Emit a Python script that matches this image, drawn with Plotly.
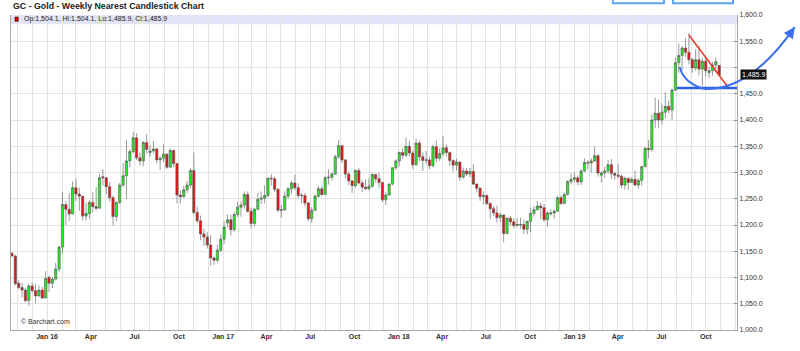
import pandas as pd
import plotly.graph_objects as go

# ---------------- data (weekly bars, Monday dates) ----------------
FIRST_WEEK = "2015-10-26"

OPEN = [1146, 1141, 1089, 1081, 1076, 1056, 1084, 1075, 1065, 1076,
        1061, 1100, 1089, 1097, 1116, 1158, 1239, 1230, 1221, 1271,
        1259, 1255, 1217, 1222, 1243, 1235, 1232, 1292, 1290, 1273,
        1252, 1216, 1243, 1276, 1294, 1322, 1340, 1366, 1328, 1322,
        1357, 1338, 1341, 1345, 1324, 1327, 1335, 1310, 1342, 1317,
        1257, 1254, 1267, 1276, 1304, 1224, 1208, 1183, 1177, 1162,
        1137, 1133, 1152, 1173, 1204, 1210, 1191, 1220, 1234, 1238,
        1258, 1226, 1203, 1230, 1249, 1251, 1256, 1289, 1288, 1268,
        1228, 1229, 1255, 1269, 1280, 1271, 1257, 1256, 1242, 1212,
        1228, 1255, 1269, 1258, 1290, 1291, 1297, 1330, 1351, 1324,
        1297, 1284, 1275, 1304, 1280, 1272, 1269, 1274, 1296, 1288,
        1281, 1248, 1257, 1278, 1309, 1322, 1338, 1333, 1350, 1337,
        1315, 1356, 1330, 1323, 1324, 1313, 1349, 1327, 1336, 1347,
        1338, 1323, 1314, 1320, 1291, 1303, 1297, 1302, 1278, 1270,
        1254, 1256, 1241, 1231, 1223, 1214, 1219, 1184, 1213, 1206,
        1199, 1200, 1201, 1192, 1207, 1222, 1229, 1236, 1233, 1210,
        1221, 1223, 1226, 1252, 1241, 1258, 1283, 1287, 1290, 1282,
        1303, 1319, 1318, 1322, 1332, 1295, 1299, 1303, 1315, 1298,
        1295, 1293, 1276, 1289, 1281, 1287, 1276, 1285, 1311, 1346,
        1344, 1400, 1413, 1400, 1415, 1426, 1419, 1457, 1509, 1523,
        1537, 1529, 1515, 1499, 1515, 1497, 1512, 1490, 1494, 1505,
        1504.1]

HIGH = [1148, 1143, 1095, 1090, 1080, 1088, 1090, 1088, 1085, 1082,
        1112, 1104, 1101, 1128, 1160, 1263, 1244, 1261, 1283, 1287,
        1271, 1256, 1243, 1247, 1263, 1272, 1297, 1306, 1291, 1282,
        1256, 1245, 1280, 1318, 1362, 1344, 1377, 1375, 1338, 1360,
        1373, 1352, 1360, 1347, 1331, 1354, 1337, 1346, 1344, 1318,
        1265, 1274, 1284, 1308, 1338, 1235, 1218, 1193, 1187, 1180,
        1140, 1162, 1182, 1207, 1220, 1220, 1225, 1244, 1245, 1264,
        1264, 1233, 1233, 1261, 1264, 1275, 1291, 1297, 1292, 1270,
        1238, 1264, 1272, 1284, 1296, 1279, 1261, 1261, 1244, 1234,
        1258, 1275, 1275, 1293, 1306, 1300, 1334, 1362, 1352, 1326,
        1302, 1285, 1306, 1309, 1285, 1287, 1289, 1299, 1298, 1300,
        1282, 1262, 1279, 1310, 1325, 1340, 1346, 1366, 1361, 1342,
        1365, 1361, 1338, 1341, 1330, 1353, 1361, 1346, 1369, 1353,
        1340, 1325, 1326, 1321, 1309, 1308, 1309, 1316, 1279, 1272,
        1264, 1259, 1244, 1236, 1237, 1223, 1220, 1215, 1217, 1213,
        1214, 1214, 1210, 1208, 1233, 1236, 1246, 1243, 1240, 1226,
        1230, 1230, 1256, 1256, 1262, 1285, 1298, 1300, 1294, 1306,
        1327, 1324, 1327, 1349, 1335, 1302, 1311, 1324, 1326, 1302,
        1316, 1296, 1292, 1290, 1291, 1303, 1289, 1313, 1349, 1362,
        1411, 1443, 1439, 1431, 1453, 1437, 1460, 1519, 1546, 1541,
        1556, 1566, 1519, 1535, 1542, 1519, 1518, 1501, 1511, 1519,
        1504.1]

LOW = [1140, 1085, 1078, 1062, 1052, 1046, 1071, 1051, 1064, 1059,
       1061, 1072, 1080, 1094, 1111, 1146, 1200, 1208, 1221, 1246,
       1227, 1209, 1208, 1212, 1224, 1228, 1232, 1275, 1259, 1245,
       1199, 1207, 1240, 1272, 1250, 1310, 1336, 1324, 1313, 1312,
       1336, 1330, 1336, 1317, 1305, 1320, 1307, 1310, 1310, 1241,
       1241, 1252, 1261, 1271, 1220, 1204, 1171, 1160, 1155, 1122,
       1124, 1128, 1148, 1164, 1195, 1180, 1187, 1215, 1216, 1231,
       1223, 1194, 1197, 1228, 1240, 1241, 1253, 1275, 1263, 1225,
       1214, 1227, 1250, 1260, 1267, 1251, 1241, 1236, 1207, 1204,
       1227, 1252, 1255, 1257, 1277, 1285, 1295, 1326, 1318, 1289,
       1276, 1261, 1271, 1278, 1263, 1267, 1266, 1271, 1281, 1271,
       1243, 1238, 1256, 1276, 1305, 1312, 1326, 1330, 1330, 1307,
       1312, 1322, 1303, 1316, 1306, 1310, 1320, 1322, 1331, 1331,
       1313, 1302, 1304, 1284, 1288, 1293, 1291, 1276, 1262, 1246,
       1239, 1238, 1211, 1217, 1205, 1206, 1167, 1182, 1199, 1194,
       1196, 1193, 1183, 1182, 1186, 1217, 1228, 1211, 1206, 1197,
       1218, 1212, 1226, 1238, 1240, 1256, 1277, 1281, 1276, 1276,
       1301, 1306, 1300, 1320, 1292, 1281, 1290, 1298, 1288, 1286,
       1289, 1270, 1267, 1267, 1281, 1274, 1269, 1275, 1310, 1327,
       1340, 1384, 1384, 1391, 1403, 1413, 1400, 1455, 1490, 1494,
       1520, 1506, 1490, 1494, 1485, 1465, 1483, 1480, 1484, 1491,
       1485.9]

CLOSE = [1141, 1088, 1081, 1076, 1056, 1084, 1075, 1065, 1076, 1061,
         1098, 1089, 1097, 1116, 1158, 1239, 1230, 1221, 1271, 1259,
         1255, 1217, 1222, 1243, 1235, 1232, 1290, 1290, 1273, 1252,
         1216, 1243, 1276, 1294, 1322, 1340, 1366, 1328, 1322, 1357,
         1344, 1341, 1345, 1324, 1327, 1335, 1310, 1342, 1317, 1257,
         1254, 1267, 1276, 1304, 1224, 1208, 1183, 1177, 1162, 1137,
         1133, 1152, 1173, 1196, 1210, 1191, 1220, 1234, 1238, 1258,
         1226, 1203, 1230, 1249, 1251, 1256, 1289, 1288, 1268, 1228,
         1229, 1255, 1269, 1280, 1271, 1256, 1256, 1242, 1212, 1228,
         1255, 1269, 1258, 1290, 1291, 1297, 1330, 1351, 1324, 1297,
         1284, 1275, 1304, 1280, 1272, 1269, 1274, 1296, 1288, 1281,
         1248, 1257, 1278, 1309, 1322, 1338, 1333, 1350, 1337, 1315,
         1356, 1330, 1323, 1324, 1313, 1349, 1327, 1336, 1347, 1338,
         1323, 1314, 1320, 1291, 1303, 1297, 1302, 1278, 1270, 1254,
         1256, 1241, 1231, 1223, 1214, 1219, 1184, 1213, 1206, 1199,
         1201, 1201, 1192, 1207, 1222, 1229, 1236, 1233, 1210, 1223,
         1223, 1226, 1252, 1241, 1258, 1283, 1287, 1290, 1282, 1303,
         1319, 1318, 1322, 1332, 1299, 1299, 1303, 1315, 1298, 1295,
         1293, 1276, 1289, 1281, 1287, 1276, 1285, 1311, 1346, 1344,
         1400, 1413, 1400, 1415, 1426, 1419, 1457, 1509, 1523, 1537,
         1529, 1515, 1499, 1515, 1497, 1512, 1494, 1494, 1505, 1511,
         1485.9]

assert len(OPEN) == len(HIGH) == len(LOW) == len(CLOSE)
DATES = pd.date_range(FIRST_WEEK, periods=len(CLOSE), freq="7D")

# hand-drawn study lines (in price / date units)
RED_LINE = [("2019-09-02", 1562), ("2019-11-22", 1463)]
SUPPORT = [("2019-08-08", 1461), ("2019-12-11", 1461)]
CURVE = [("2019-08-14", 1501), ("2019-08-22", 1470), ("2019-10-05", 1459),
         ("2020-01-07", 1455), ("2020-04-09", 1577)]

X_RANGE = ["2015-10-24", "2019-12-11"]
Y_RANGE = [1000, 1600]
Y_TICKS = list(range(1000, 1601, 50))
HIDDEN_Y_LABEL = 1500

FONT = "Liberation Sans, Arial, sans-serif"
BLUE = "#3b6ff0"
RED = "#f23b2c"

# ---------------- figure ----------------
fig = go.Figure(go.Candlestick(
    x=DATES, open=OPEN, high=HIGH, low=LOW, close=CLOSE,
    increasing=dict(fillcolor="#22ee22", line=dict(color="#555555", width=0.6)),
    decreasing=dict(fillcolor="#f01010", line=dict(color="#555555", width=0.6)),
    whiskerwidth=0, showlegend=False, hoverinfo="skip"))

months = pd.date_range("2015-11-01", "2019-12-01", freq="MS")
x_tickvals = months + pd.Timedelta(days=6)
x_ticktext = []
for m in months:
    if m.month == 1:
        x_ticktext.append(f"Jan {m.year % 100:02d}")
    elif m.month in (4, 7, 10):
        x_ticktext.append(m.strftime("%b"))
    else:
        x_ticktext.append("")

y_ticktext = ["" if v == HIDDEN_Y_LABEL else f"{v:,.1f}" for v in Y_TICKS]

t0, t1 = pd.Timestamp(X_RANGE[0]), pd.Timestamp(X_RANGE[1])


def to_paper(date, price):
    px = (pd.Timestamp(date) - t0) / (t1 - t0)
    py = (price - Y_RANGE[0]) / (Y_RANGE[1] - Y_RANGE[0])
    return px, py


cp = [to_paper(d, p) for d, p in CURVE]
curve_path = (f"M {cp[0][0]},{cp[0][1]} Q {cp[1][0]},{cp[1][1]} {cp[2][0]},{cp[2][1]} "
              f"Q {cp[3][0]},{cp[3][1]} {cp[4][0]},{cp[4][1]}")

shapes = [
    # lavender info band at top of plot
    dict(type="rect", xref="paper", yref="paper", x0=0, x1=1, y0=0.971, y1=1.0,
         fillcolor="#e4e4f8", line=dict(width=0), layer="below"),
    # red legend square
    dict(type="rect", xref="paper", yref="paper", x0=0.0055, x1=0.0100, y0=0.980, y1=0.9935,
         fillcolor="#e00000", line=dict(color="#300000", width=0.6)),
    # toolbar buttons cut at the top edge
    dict(type="rect", xref="paper", yref="paper", x0=0.829, x1=0.8994, y0=1.037, y1=1.2,
         fillcolor="white", line=dict(color="#5aa5ee", width=2)),
    dict(type="rect", xref="paper", yref="paper", x0=0.9118, x1=0.9945, y0=1.037, y1=1.2,
         fillcolor="white", line=dict(color="#5aa5ee", width=2)),
    # red trend line
    dict(type="line", xref="x", yref="y",
         x0=RED_LINE[0][0], y0=RED_LINE[0][1], x1=RED_LINE[1][0], y1=RED_LINE[1][1],
         line=dict(color=RED, width=1.6)),
    # blue support line
    dict(type="line", xref="x", yref="y",
         x0=SUPPORT[0][0], y0=SUPPORT[0][1], x1=SUPPORT[1][0], y1=SUPPORT[1][1],
         line=dict(color="#2f5fe6", width=2.5)),
    # blue projection curve
    dict(type="path", xref="paper", yref="paper", path=curve_path,
         line=dict(color=BLUE, width=2)),
]

last = len(CLOSE) - 1
ohlc_text = (f"Op:{OPEN[last]:,.1f}, Hi:{HIGH[last]:,.1f}, "
             f"Lo:{LOW[last]:,.1f}, Cl:{CLOSE[last]:,.1f}")

annotations = [
    dict(xref="paper", yref="paper", x=0, y=1.0286, xanchor="left", yanchor="middle",
         text="<b>GC - Gold - Weekly Nearest Candlestick Chart</b>", showarrow=False,
         font=dict(family=FONT, size=8.8, color="#222222")),
    dict(xref="paper", yref="paper", x=0.0152, y=0.9873, xanchor="left", yanchor="middle",
         text=ohlc_text, showarrow=False, font=dict(family=FONT, size=7, color="#222222")),
    dict(xref="paper", yref="paper", x=0.011, y=0.0254, xanchor="left", yanchor="middle",
         text="© Barchart.com", showarrow=False, font=dict(family=FONT, size=7, color="#333333")),
    dict(xref="paper", yref="y", x=1, y=CLOSE[last], xanchor="left", yanchor="middle",
         xshift=3, text=f"{CLOSE[last]:,.1f}", showarrow=False, bgcolor="#111111",
         borderpad=1, font=dict(family=FONT, size=7, color="#ffffff")),
    dict(xref="paper", yref="paper", x=cp[4][0], y=cp[4][1], text="", showarrow=True,
         ax=-6, ay=8.5, arrowhead=2, arrowsize=1.1, arrowwidth=2, arrowcolor=BLUE,
         standoff=0),
]

fig.update_layout(
    width=800, height=351, autosize=False,
    margin=dict(l=11, r=63, t=15, b=21, pad=0),
    paper_bgcolor="white", plot_bgcolor="white",
    font=dict(family=FONT, size=7, color="#333333"),
    boxgap=0.05,
    shapes=shapes, annotations=annotations,
    xaxis=dict(type="date", range=X_RANGE, tickvals=list(x_tickvals), ticktext=x_ticktext,
               showgrid=True, gridcolor="#e2e2e2", gridwidth=1, ticks="",
               tickfont=dict(family=FONT, size=7, color="#333333", weight="bold"),
               showline=True, linecolor="#a8a8a8", linewidth=1,
               rangeslider=dict(visible=False), fixedrange=True),
    yaxis=dict(side="right", range=Y_RANGE, tickvals=Y_TICKS, ticktext=y_ticktext,
               showgrid=True, gridcolor="#e2e2e2", gridwidth=1, zeroline=False,
               ticks="inside", ticklen=3, tickcolor="#8a8a8a",
               tickfont=dict(family=FONT, size=7, color="#333333"),
               showline=True, linecolor="#a8a8a8", linewidth=1, mirror=True,
               fixedrange=True),
)

fig.write_html("out.html")
